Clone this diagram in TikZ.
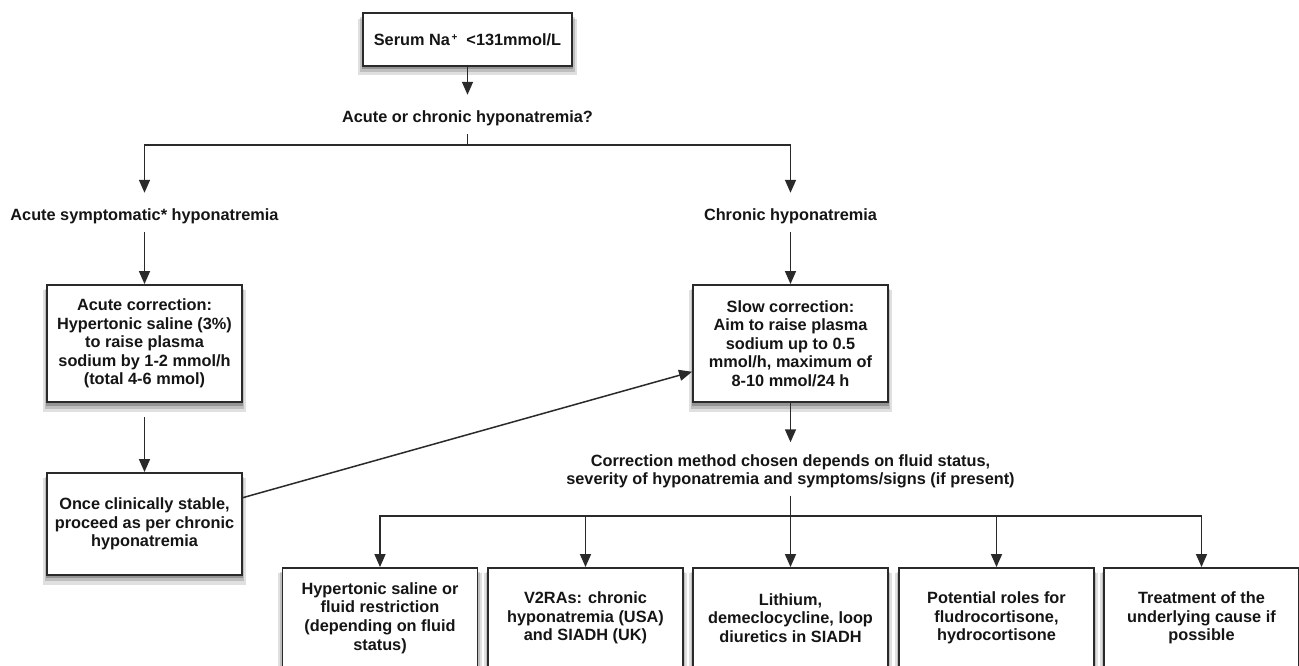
\documentclass[tikz,border=0pt]{standalone}
\usepackage{fontspec}
\setmainfont{Liberation Sans}
\usetikzlibrary{arrows.meta,shadows}
\definecolor{ink}{HTML}{151515}
\definecolor{edge}{HTML}{2A2A2A}
\begin{document}
\begin{tikzpicture}[x=1pt,y=-1pt,
  txt/.style={font=\bfseries\fontsize{16.3}{18.6}\selectfont, text=ink},
  box/.style={txt, draw=edge, line width=1.9pt, fill=white, align=center,
    inner sep=2pt, minimum width=195pt,
    general shadow={fill=black, opacity=0.12, shadow yshift=-7pt, shadow scale=1.045},
    general shadow={fill=black, opacity=0.15, shadow yshift=-5pt, shadow scale=1.025},
    general shadow={fill=black, opacity=0.22, shadow yshift=-3pt, shadow scale=1.008}},
  lbl/.style={txt, inner sep=0pt, text height=27pt, text depth=12pt, anchor=base},
  conn/.style={draw=edge, line width=1.5pt},
  arr/.style={conn, -{Triangle[length=13pt,width=11pt]}}
]
\useasboundingbox (0,0) rectangle (1299,665);
\fill[white] (0,0) rectangle (1299,665);
\clip (0,0) rectangle (1299,665);

% nodes
\node[box, minimum width=209pt, minimum height=53pt] (top) at (467.5,39.5) {Serum Na\raisebox{5pt}{\fontsize{10}{10}\selectfont\,+} \ <131mmol/L};
\node[lbl] (q) at (467.5,122) {Acute or chronic hyponatremia?};
\node[lbl] (acuteL) at (144.5,220) {Acute symptomatic* hyponatremia};
\node[lbl] (chronL) at (790.5,220) {Chronic hyponatremia};
\node[box, minimum height=117pt] (acute) at (144.5,343.5) {Acute correction:\\Hypertonic saline (3\%)\\to raise plasma\\sodium by 1-2 mmol/h\\(total 4-6 mmol)};
\node[box, minimum height=117pt] (slow) at (790.5,343.5) {Slow correction:\\Aim to raise plasma\\sodium up to 0.5\\mmol/h, maximum of\\8-10 mmol/24 h};
\node[box, minimum height=102pt] (once) at (144.5,524) {Once clinically stable,\\proceed as per chronic\\hyponatremia};
\node[txt, align=center, inner sep=0pt] (corr) at (790.5,471.4) {Correction method chosen depends on fluid status,\\severity of hyponatremia and symptoms/signs (if present)};

\node[box, minimum height=100pt] (b1) at (380,618) {Hypertonic saline or\\fluid restriction\\(depending on fluid\\status)};
\node[box, minimum height=100pt] (b2) at (585.5,618) {V2RAs: chronic\\hyponatremia (USA)\\and SIADH (UK)};
\node[box, minimum height=100pt] (b3) at (790.5,618) {Lithium,\\demeclocycline, loop\\diuretics in SIADH};
\node[box, minimum height=100pt] (b4) at (996.5,618) {Potential roles for\\fludrocortisone,\\hydrocortisone};
\node[box, minimum height=100pt] (b5) at (1201.5,618) {Treatment of the\\underlying cause if\\possible};

\coordinate (j1) at (467.5,145);
\coordinate (j2) at (790.5,516);

% connectors
\draw[arr] (top.south) -- (q.north);
\draw[conn] (q.south) -- (j1);
\draw[arr] (j1) -| (acuteL.north);
\draw[arr] (j1) -| (chronL.north);
\draw[arr] (acuteL.south) -- (acute.north);
\draw[arr] (chronL.south) -- (slow.north);
\draw[arr] (acute.south) ++(0,14) -- (once.north);
\draw[arr] (once.15.5) -- (slow.196.3);
\draw[arr, shorten >=12pt] (slow.south) -- (corr.north);
\draw[conn, shorten <=7pt] (corr.south) -- (j2);
\foreach \b in {b1,b2,b3,b4,b5}{
  \draw[arr] (j2) -| (\b.north);
}
\end{tikzpicture}
\end{document}
